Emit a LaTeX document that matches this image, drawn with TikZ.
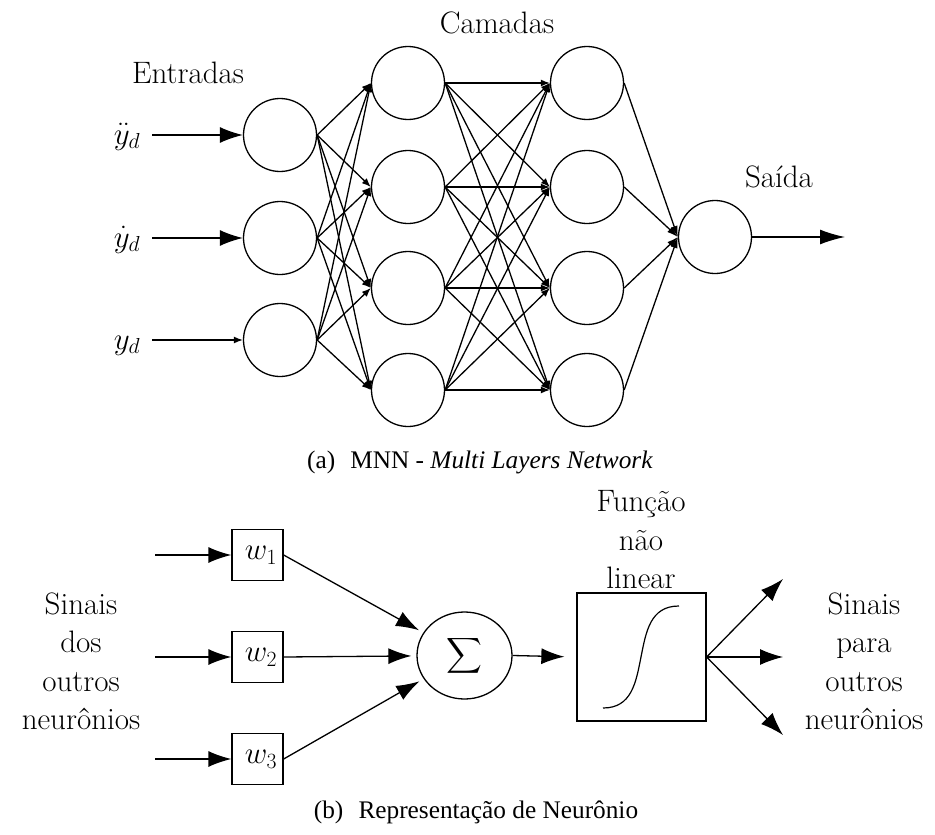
\RequirePackage{fix-cm}
\documentclass[tikz,border=0pt]{standalone}
\usepackage{amsmath}
\usepackage{exscale}
\usepackage{fontspec}
\newfontfamily\capfont{Liberation Serif}
\usetikzlibrary{arrows.meta,shapes.geometric}

\tikzset{
  neuron/.style={circle, draw, minimum size=73pt, inner sep=0pt},
  wbox/.style={draw, minimum size=51pt, inner sep=0pt, font=\fontsize{31}{38.5}\selectfont},
  sumnode/.style={ellipse, draw, minimum width=95pt, minimum height=87pt, inner sep=0pt, font=\fontsize{23.5}{28}\selectfont},
  funcbox/.style={draw, minimum width=129pt, minimum height=128pt, inner sep=0pt},
  lbl/.style={font=\fontsize{31}{38.5}\selectfont, inner sep=0pt, align=center},
  captext/.style={font=\capfont\fontsize{25.3}{30}\selectfont, inner sep=0pt},
  bigarrow/.style={-{Latex[length=23pt,width=16pt]}},
  tinyarrow/.style={-{Latex[length=9pt,width=7pt]}},
  midarrow/.style={-{Latex[length=11pt,width=7pt]}},
}

\begin{document}
\begin{tikzpicture}[x=1pt, y=-1pt, line width=1.3pt]
\path[use as bounding box] (0,0) rectangle (935,835);

% ---------- (a) multilayer network ----------
\node[lbl, anchor=base] (tin) at (188,83) {Entradas};
\node[lbl, anchor=base] (tlay) at (497,33) {Camadas};
\node[lbl, anchor=base] (tout) at (779,187) {Saída};

% input labels and neurons
\node[lbl, anchor=base] (ly1) at (127,144) {$\ddot{y}_d$};
\node[lbl, anchor=base] (ly2) at (127,247) {$\dot{y}_d$};
\node[lbl, anchor=base] (ly3) at (127,349) {$y_d$};

\node[neuron] (in1) at (280,135) {};
\node[neuron] (in2) at (280,238) {};
\node[neuron] (in3) at (280,340) {};

\coordinate (s1) at (152,135);
\coordinate (s2) at (152,238);
\coordinate (s3) at (152,340);
\draw[bigarrow] (s1) -- (in1);
\draw[bigarrow] (s2) -- (in2);
\draw[tinyarrow] (s3) -- (in3);

% hidden layers
\foreach \j/\y in {1/83, 2/187, 3/288, 4/390} {
  \node[neuron] (ha\j) at (408,\y) {};
  \node[neuron] (hb\j) at (587,\y) {};
}

% output neuron
\node[neuron] (out) at (715,237) {};
\coordinate (oend) at (845,237);
\draw[-{Latex[length=25pt,width=15pt]}] (out) -- (oend);

% full connections
\foreach \i in {1,2,3} {
  \foreach \j in {1,2,3,4} {
    \draw[tinyarrow] (in\i.east) -- (ha\j.west);
  }
}
\foreach \i in {1,2,3,4} {
  \foreach \j in {1,2,3,4} {
    \draw[tinyarrow] (ha\i.east) -- (hb\j.west);
  }
  \draw[midarrow] (hb\i.east) -- (out.west);
}

\node[captext] (capa) at (480,462) {(a)\hspace{0.6em}MNN - \textit{Multi Layers Network}};

% ---------- (b) single neuron ----------
\node[lbl] (tsrc) at (81,661.5) {Sinais\\dos\\outros\\neurônios};
\node[lbl] (tdst) at (864,661.5) {Sinais\\para\\outros\\neurônios};
\node[lbl] (tfun) at (641,540) {Função\\não\\linear};

\node[wbox] (w1) at (257.5,555) {\hspace*{7pt}$w_1$};
\node[wbox] (w2) at (257.5,657) {\hspace*{7pt}$w_2$};
\node[wbox] (w3) at (257.5,759) {\hspace*{7pt}$w_3$};

\coordinate (a1) at (155,555);
\coordinate (a2) at (155,657);
\coordinate (a3) at (155,759);
\draw[bigarrow] (a1) -- (w1);
\draw[bigarrow] (a2) -- (w2);
\draw[bigarrow] (a3) -- (w3);

\node[sumnode] (sum) at (464.5,655.5) {$\displaystyle\sum$};
\draw[bigarrow, shorten >=5pt] (w1.east) -- (sum);
\draw[bigarrow, shorten >=5pt] (w2.east) -- (sum);
\draw[bigarrow, shorten >=5pt] (w3.east) -- (sum);

\node[funcbox] (fb) at (641.5,657) {};
\draw[bigarrow, shorten >=12pt] (sum.east) -- (fb.west);

% sigmoid curve inside the function box
\draw[line width=1.2pt] (603,708) .. controls (632,708) and (636,682) .. (641,657)
                                  .. controls (646,632) and (650,606) .. (679,606);

\coordinate (o1) at (783,579);
\coordinate (o2) at (783,657);
\coordinate (o3) at (783,735);
\draw[bigarrow] (fb.east) -- (o1);
\draw[bigarrow] (fb.east) -- (o2);
\draw[bigarrow] (fb.east) -- (o3);

\node[captext] (capb) at (476,812.5) {(b)\hspace{0.6em}Representação de Neurônio};
\end{tikzpicture}
\end{document}
